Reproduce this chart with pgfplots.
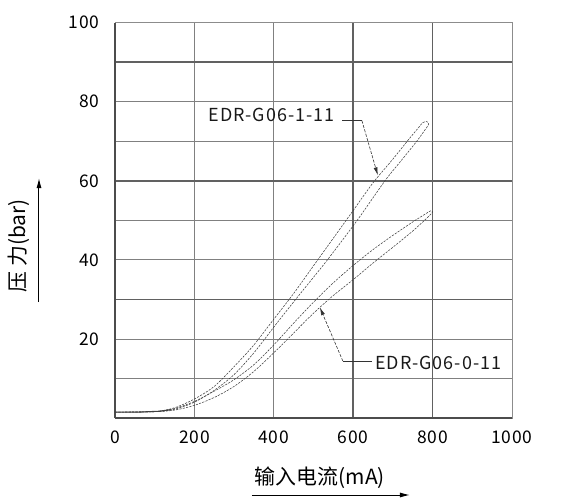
\documentclass[border=0pt]{standalone}
\usepackage{fontspec}
\setmainfont{Noto Sans CJK SC}
\usepackage{pgfplots}
\pgfplotsset{compat=1.18}
\usetikzlibrary{arrows.meta}
\begin{document}
\begin{tikzpicture}
\begin{axis}[
 scale only axis, width=397bp, height=395.3bp,
 xmin=0,xmax=1000,ymin=0,ymax=100,
 xtick={0,200,...,1000}, ytick={20,40,...,100},
 minor ytick={10,30,...,90},
 grid=both,
 major grid style={black!50, line width=0.8bp},
 minor grid style={black!50, line width=0.8bp},
 major tick length=0pt, minor tick length=0pt,
 axis line style={black!45, line width=0.8bp},
 tick label style={font=\fontsize{17.5}{19}\selectfont\addfontfeatures{LetterSpace=5}, black},
 /pgf/number format/assume math mode=true,
 /pgf/number format/1000 sep={},
 yticklabel style={xshift=-12bp},
 xticklabel style={yshift=-9bp},
 clip=false,
]
% thick grid lines
\draw[black!62, line width=1.7bp] (axis cs:0,90) -- (axis cs:1000,90);
\draw[black!62, line width=1.7bp] (axis cs:0,60) -- (axis cs:1000,60);
\draw[black!62, line width=1.7bp] (axis cs:0,30) -- (axis cs:1000,30);
\draw[black!62, line width=1.7bp] (axis cs:600,0) -- (axis cs:600,100);
\draw[black!62, line width=1.7bp] (axis cs:800,0) -- (axis cs:800,100);
\draw[black!70, line width=1.3bp] (axis cs:0,0) -- (axis cs:0,100);
\draw[black!70, line width=2bp] (axis cs:0,0) -- (axis cs:1000,0);

% EDR-G06-1-11 hysteresis loop
\addplot[black!75, line width=0.55bp, dash pattern=on 2.2bp off 1.2bp, smooth, tension=0.5] coordinates {
(0,1.5) (100,1.6) (150,2.2) (200,4) (250,7) (300,11) (350,16.5) (400,23) (455,30)
(535,40) (610,50) (680,60) (720,65) (760,70) (778,72.5) (790,74.3)
(785,75) (775,74.7) (765,73.5) (740,70.5) (700,65.5) (650,59.5) (600,52.5) (550,45.5)
(500,38.5) (450,31.5) (400,25) (350,18.5) (300,13) (250,8) (200,4.8) (150,2.6) (100,1.6) (0,1.5)
};
% EDR-G06-0-11 hysteresis loop
\addplot[black!75, line width=0.55bp, dash pattern=on 2.2bp off 1.2bp, smooth, tension=0.5] coordinates {
(0,1.5) (100,1.6) (150,2) (200,3.2) (250,5.2) (300,8) (350,11.8) (400,16.5) (450,21.5)
(500,26.5) (550,31) (600,35) (650,39.2) (700,43.2) (750,47.3) (790,51) (800,52.1)
(795,52.4) (780,51.5) (750,49.6) (700,46.2) (650,42.6) (600,38.6) (550,34.2) (500,29.3)
(450,24) (400,18.5) (350,13.5) (300,9.7) (250,6.8) (200,4.2) (150,2.4) (100,1.6) (0,1.5)
};
% merged base segment
\addplot[black!75, line width=1.1bp] coordinates {(0,1.5) (60,1.5) (110,1.7) (140,2.1)};

% annotations
\node[anchor=base east, inner sep=0pt, font=\fontsize{18}{20}\selectfont\addfontfeatures{LetterSpace=6}, black!90] at (axis cs:554,74.9) {EDR-G06-1-11};
\draw[black!80, line width=0.6bp] (axis cs:572,75.2) -- (axis cs:622,75.2);
\draw[black!80, line width=0.6bp, dash pattern=on 3bp off 1.5bp, -{Latex[length=8bp,width=4bp]}] (axis cs:622,75.2) -- (axis cs:662,61.4);

\node[anchor=west, inner sep=0pt, font=\fontsize{18}{20}\selectfont\addfontfeatures{LetterSpace=6}, black!90] at (axis cs:655,14.0) {EDR-G06-0-11};
\draw[black!80, line width=0.6bp] (axis cs:574,14.4) -- (axis cs:647,14.4);
\draw[black!80, line width=0.6bp, dash pattern=on 3bp off 1.5bp, -{Latex[length=8bp,width=4bp]}] (axis cs:574,14.4) -- (axis cs:516,28);

% axis labels
\node[font=\fontsize{21}{23}\selectfont, black] at ([yshift=-60bp]rel axis cs:0.516,0) {输入电流(mA)};
\draw[black, line width=1bp, -{Latex[length=10bp,width=5bp]}] ([yshift=-77bp]rel axis cs:0.345,0) -- ([yshift=-77bp]rel axis cs:0.743,0);
\node[rotate=90, font=\fontsize{21}{23}\selectfont, black] at ([xshift=-96bp]rel axis cs:0,0.435) {压\hspace{0.25em}力(bar)};
\draw[black, line width=1bp, -{Latex[length=10bp,width=5bp]}] ([xshift=-76bp]rel axis cs:0,0.293) -- ([xshift=-76bp]rel axis cs:0,0.607);

% page frame
\path ([xshift=-115bp,yshift=-81bp]rel axis cs:0,0) rectangle ++(583bp,499bp);
\end{axis}
\end{tikzpicture}
\end{document}
